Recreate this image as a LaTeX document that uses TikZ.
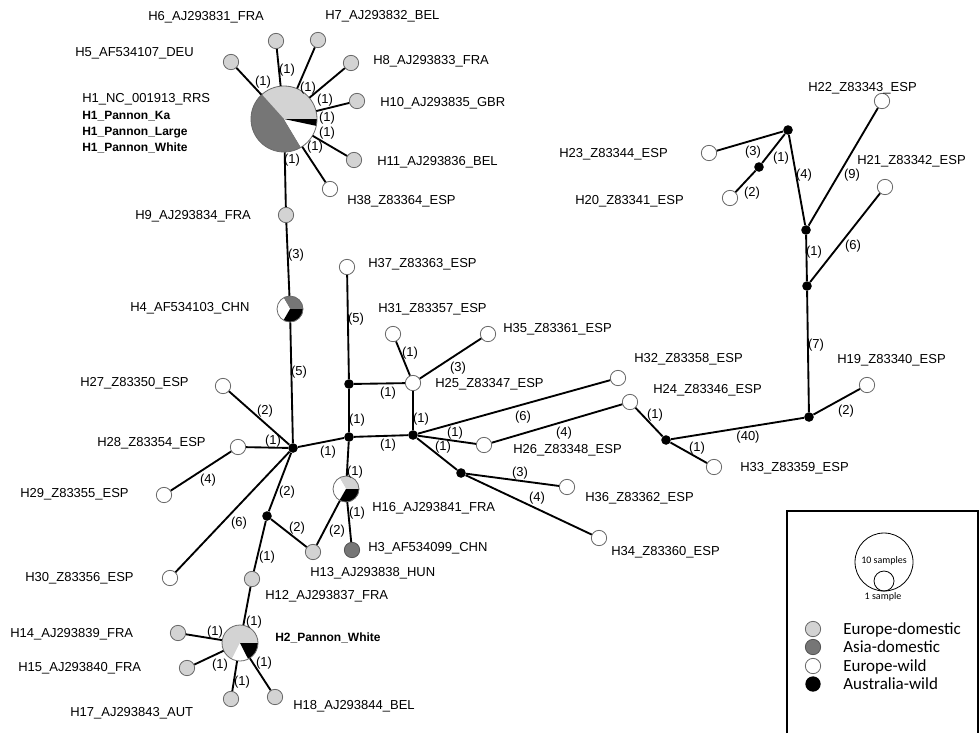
\documentclass[tikz,border=0pt]{standalone}
\usepackage{fontspec}
\setmainfont{Liberation Sans}
\newfontfamily\legfont{Carlito}
\definecolor{lg}{RGB}{211,211,211}
\definecolor{dg}{RGB}{118,118,118}
\definecolor{ol}{RGB}{105,105,105}
\newcommand\mypie[3]{%
  \foreach \a/\b/\c in {#3} {\fill[\c] (#1.center) -- ++(\a:#2) arc[start angle=\a, end angle=\b, radius=#2] -- cycle;}
  \draw[draw=ol,line width=0.6pt] (#1.center) circle[radius=#2];}
\begin{document}
\begin{tikzpicture}[x=0.75pt,y=-0.75pt,
  edge/.style={line width=1.4pt},
  hap/.style={circle,inner sep=0pt,minimum size=11.5pt,draw=ol,line width=0.6pt},
  ed/.style={hap,fill=lg},
  ad/.style={hap,fill=dg,draw=dg!70!black},
  ew/.style={hap,fill=white},
  junc/.style={circle,inner sep=0pt,minimum size=7.2pt,fill=black},
  piebox/.style={circle,inner sep=0pt},
  lab/.style={anchor=west,font=\fontsize{9.75}{11}\selectfont,text height=7pt,text depth=0pt,inner sep=0pt},
  blab/.style={lab,font=\fontsize{9}{11}\selectfont\bfseries,text height=6.5pt},
  elab/.style={font=\fontsize{9.75}{11}\selectfont,inner sep=0pt},
  legtext/.style={anchor=west,font=\legfont\fontsize{12.75}{14}\selectfont,text height=8.2pt,text depth=0pt,inner sep=0pt}
]
\useasboundingbox (0,0) rectangle (980,733);

% pie-chart haplotypes
\node[piebox,minimum size=49.5pt] (H1) at (284,119) {};
\node[piebox,minimum size=19.5pt] (H4) at (290,309) {};
\node[piebox,minimum size=19.5pt] (H16) at (346,489) {};
\node[piebox,minimum size=27pt] (H2) at (240,643) {};
\mypie{H1}{33}{0/-132/lg, -132/-301/dg, -301/-348/white, -348/-360/black}
\mypie{H4}{13}{0/-120/dg, -120/-240/white, -240/-360/black}
\mypie{H16}{13}{0/-120/lg, -120/-240/white, -240/-360/black}
\mypie{H2}{18}{0/-243/lg, -243/-297/white, -297/-360/black}

% single haplotypes
\foreach \s/\n/\x/\y in {
  ed/H5/231/62, ed/H6/276/41, ed/H7/318/40, ed/H8/351/63, ed/H10/357/101,
  ed/H11/354/160, ew/H38/330/189, ed/H9/286/215,
  ew/H27/223/386, ew/H28/238/447, ew/H29/164/495, ew/H30/170/578,
  ed/H12/252/579, ed/H13/313/552, ed/H14/178/633, ed/H15/187/668,
  ed/H17/231/699, ed/H18/275/697, ew/H37/347/267, ew/H25/413/383,
  ew/H31/393/334, ew/H35/488/334, ad/H3/352/550, ew/H32/618/378,
  ew/H26/484/445, ew/H24/630/402, ew/H36/567/487, ew/H34/599/538,
  ew/H33/714/467, ew/H19/867/385, ew/H21/885/187, ew/H22/882/101,
  ew/H23/709/153, ew/H20/730/198,
  junc/J1/293/448, junc/J2/349/437, junc/J3/349/384, junc/J4/413/435,
  junc/J5/461/473, junc/J6/267/516, junc/J7/788/130, junc/J8/759/167,
  junc/J9/806/230, junc/J10/807/286, junc/J11/809/417, junc/J12/666/440}
  \node[\s] (\n) at (\x,\y) {};

% connectors
\foreach \a/\b in {H1/H5, H1/H6, H1/H7, H1/H8, H1/H10, H1/H11, H1/H38, H1/H9,
  H9/H4, H4/J1, J1/H27, J1/H28, J1/J2, J1/J6, J1/H30, H28/H29,
  J6/H13, J6/H12, H12/H2, H2/H14, H2/H15, H2/H17, H2/H18,
  J2/J3, J3/H37, J3/H25, J2/J4, J2/H16, H16/H3, H16/H13,
  H25/H31, H25/H35, H25/J4, J4/H32, J4/H26, J4/J5, H26/H24,
  J5/H36, J5/H34, H24/J12, J12/H33, J12/J11, J11/H19, J11/J10,
  J10/J9, J10/H21, J9/J7, J9/H22, J7/H23, J7/J8, J8/H20}
  \draw[edge] (\a) -- (\b);

% mutation counts
\foreach \x/\y/\t [count=\i] in {
  263/82/1, 287/70/1, 308/88/1, 325/100/1, 327/118/1, 327/133/1, 315/147/1, 292/160/1,
  296/255/3, 299/372/5, 265/411/2, 273/441/1, 328/452/1, 208/480/4, 287/492/2,
  239/523/6, 297/528/2, 267/557/1, 254/622/1, 215/632/1, 220/665/1, 242/682/1,
  264/663/1, 356/319/5, 410/353/1, 458/368/3, 388/393/1, 357/420/1, 421/419/1,
  388/445/1, 523/417/6, 455/433/1, 564/433/4, 443/447/1, 520/473/3, 537/498/4,
  355/472/1, 357/513/1, 337/531/2, 655/415/1, 697/448/1, 748/437/40, 846/411/2,
  816/345/7, 814/252/1, 853/246/6, 804/175/4, 852/175/9, 753/152/3, 781/158/1,
  752/193/2}
  \node[elab] (m\i) at (\x,\y) {(\t)};

% haplotype names
\node[lab] (tH6) at (148,16) {H6\_AJ293831\_FRA};
\node[lab] (tH7) at (325,15) {H7\_AJ293832\_BEL};
\node[lab] (tH5) at (75,52) {H5\_AF534107\_DEU};
\node[lab] (tH8) at (373,60) {H8\_AJ293833\_FRA};
\node[lab] (tH10) at (380,102) {H10\_AJ293835\_GBR};
\node[lab] (tH11) at (377,161) {H11\_AJ293836\_BEL};
\node[lab] (tH38) at (347,200) {H38\_Z83364\_ESP};
\node[lab] (tH9) at (135,215) {H9\_AJ293834\_FRA};
\node[lab] (tH1a) at (82,98) {H1\_NC\_001913\_RRS};
\node[blab] (tH1b) at (82,115) {H1\_Pannon\_Ka};
\node[blab] (tH1c) at (82,131) {H1\_Pannon\_Large};
\node[blab] (tH1d) at (82,147) {H1\_Pannon\_White};
\node[lab] (tH4) at (130,307) {H4\_AF534103\_CHN};
\node[lab] (tH37) at (368,263) {H37\_Z83363\_ESP};
\node[lab] (tH31) at (378,308) {H31\_Z83357\_ESP};
\node[lab] (tH35) at (503,328) {H35\_Z83361\_ESP};
\node[lab] (tH25) at (435,383) {H25\_Z83347\_ESP};
\node[lab] (tH32) at (634,358) {H32\_Z83358\_ESP};
\node[lab] (tH24) at (653,389) {H24\_Z83346\_ESP};
\node[lab] (tH27) at (80,382) {H27\_Z83350\_ESP};
\node[lab] (tH28) at (97,442) {H28\_Z83354\_ESP};
\node[lab] (tH26) at (513,449) {H26\_Z83348\_ESP};
\node[lab] (tH29) at (20,493) {H29\_Z83355\_ESP};
\node[lab] (tH36) at (585,497) {H36\_Z83362\_ESP};
\node[lab] (tH16) at (372,507) {H16\_AJ293841\_FRA};
\node[lab] (tH3) at (368,547) {H3\_AF534099\_CHN};
\node[lab] (tH13) at (310,572) {H13\_AJ293838\_HUN};
\node[lab] (tH34) at (611,551) {H34\_Z83360\_ESP};
\node[lab] (tH30) at (25,577) {H30\_Z83356\_ESP};
\node[lab] (tH12) at (265,595) {H12\_AJ293837\_FRA};
\node[lab] (tH14) at (10,633) {H14\_AJ293839\_FRA};
\node[blab] (tH2) at (275,637) {H2\_Pannon\_White};
\node[lab] (tH15) at (18,667) {H15\_AJ293840\_FRA};
\node[lab] (tH18) at (293,705) {H18\_AJ293844\_BEL};
\node[lab] (tH17) at (70,712) {H17\_AJ293843\_AUT};
\node[lab] (tH22) at (808,87) {H22\_Z83343\_ESP};
\node[lab] (tH23) at (559,153) {H23\_Z83344\_ESP};
\node[lab] (tH21) at (857,160) {H21\_Z83342\_ESP};
\node[lab] (tH20) at (575,200) {H20\_Z83341\_ESP};
\node[lab] (tH19) at (837,359) {H19\_Z83340\_ESP};
\node[lab] (tH33) at (740,467) {H33\_Z83359\_ESP};

% legend
\draw[line width=0.8pt] (787,733) -- (787,511) -- (978,511) -- (978,733);
\node[circle,draw=black,line width=0.6pt,minimum size=43.5pt,inner sep=0pt] (big) at (884,562) {};
\node[circle,draw=black,line width=0.6pt,minimum size=15pt,inner sep=0pt] (small) at (884,581) {};
\node[font=\legfont\fontsize{7.5}{8}\selectfont,inner sep=0pt] (t10) at (884,561) {10 samples};
\node[font=\legfont\fontsize{7.5}{8}\selectfont,inner sep=0pt] (t1) at (883,597) {1 sample};
\node[ed,minimum size=11.5pt] (k1) at (813,629) {};
\node[ad,minimum size=11.5pt] (k2) at (813,647) {};
\node[ew,minimum size=11.5pt] (k3) at (813,666) {};
\node[junc,minimum size=11.5pt] (k4) at (813,684) {};
\node[legtext] (lk1) at (843,629) {Europe-domestic};
\node[legtext] (lk2) at (843,647) {Asia-domestic};
\node[legtext] (lk3) at (843,666) {Europe-wild};
\node[legtext] (lk4) at (843,684) {Australia-wild};
\end{tikzpicture}
\end{document}
